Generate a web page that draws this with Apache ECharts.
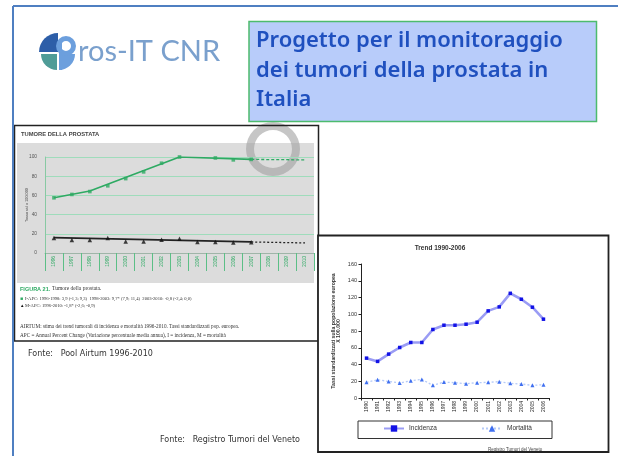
<!DOCTYPE html>
<html><head><meta charset="utf-8">
<script src="https://cdn.jsdelivr.net/npm/echarts@6/dist/echarts.min.js"></script>
<style>html,body{margin:0;padding:0;background:#fff}#c{width:618px;height:456px}</style>
</head><body><div id="c"></div>
<script>
// Left chart (AIRTUM)
const years1 = ['1996','1997','1998','1999','2000','2001','2002','2003','2004','2005','2006','2007','2008','2009','2010'];
const incObs = [57.5, 61, 64, 70, 77.5, 84.5, 93.5, 100, 102, 99, 97, 97.5, null, null, null];
const incTrend = [57.5, null, 64.5, null, null, null, null, 100, null, null, null, 97.5, null, null, null];
const incProj = [null, null, null, null, null, null, null, null, null, null, null, 97.5, null, null, 97];
const mortObs = [15.6, 13.5, 13.5, 15.6, 12.1, 12.1, 13.8, 14.9, 11.4, 11.4, 10.9, 11.1, null, null, null];
const mortTrend = [16, null, null, null, null, null, null, null, null, null, null, 11.5, null, null, null];
const mortProj = [null, null, null, null, null, null, null, null, null, null, null, 11.5, null, null, 10.5];
const yTicks1 = {min: 0, max: 100, interval: 20};

// Right chart (Registro Tumori del Veneto)
const years2 = ['1990','1991','1992','1993','1994','1995','1996','1997','1998','1999','2000','2001','2002','2003','2004','2005','2006'];
const incidenza = [47.6, 43.7, 52.4, 60.3, 66.3, 66.3, 81.8, 86.9, 86.9, 88.1, 90.5, 104, 108.8, 125, 117.9, 108.4, 94.1];
const mortalita = [18.7, 21.8, 19.8, 17.9, 20.6, 22.2, 15.1, 19, 18.3, 17.1, 18.3, 18.7, 19.5, 17.5, 16.7, 15.1, 15.9];
const yTicks2 = {min: 0, max: 160, interval: 20};

const GREEN = '#2eaa63';
const chart = echarts.init(document.getElementById('c'), null, {renderer: 'canvas'});

function txt(x, y, text, o) {
  o = o || {};
  return {type: 'text', z: o.z || 10, x: x, y: y, rotation: o.rot || 0,
    style: {text: text, fontSize: o.size || 8, fontFamily: o.family || 'Liberation Sans',
      fontWeight: o.weight || 'normal', fill: o.color || '#333',
      textAlign: o.align || 'left', align: o.align || 'left',
      textVerticalAlign: 'middle', verticalAlign: 'middle'}};
}

const graphics = [
  // slide frame
  {type: 'line', z: 1, shape: {x1: 13, y1: 6, x2: 618, y2: 6}, style: {stroke: '#4f7fc1', lineWidth: 2}},
  {type: 'line', z: 1, shape: {x1: 13, y1: 6, x2: 13, y2: 456}, style: {stroke: '#4f7fc1', lineWidth: 2}},
  // title box
  {type: 'rect', z: 1, shape: {x: 249, y: 21.5, width: 347.5, height: 100}, style: {fill: '#b8ccfa', stroke: '#4dbb6e', lineWidth: 1.5}},
  txt(256, 41, 'Progetto per il monitoraggio', {size: 22, family: 'Noto Sans', weight: 600, color: '#1f50bf'}),
  txt(256, 71, 'dei tumori della prostata in', {size: 22, family: 'Noto Sans', weight: 600, color: '#1f50bf'}),
  txt(256, 100, 'Italia', {size: 22, family: 'Noto Sans', weight: 600, color: '#1f50bf'}),
  // logo
  {type: 'sector', z: 2, shape: {cx: 58, cy: 52, r: 19, r0: 0, startAngle: Math.PI, endAngle: Math.PI * 1.5}, style: {fill: '#2d5ea8'}},
  {type: 'sector', z: 2, shape: {cx: 57, cy: 54, r: 16, r0: 0, startAngle: Math.PI / 2, endAngle: Math.PI}, style: {fill: '#4f9c97'}},
  {type: 'sector', z: 2, shape: {cx: 59, cy: 54, r: 16, r0: 0, startAngle: 0, endAngle: Math.PI / 2}, style: {fill: '#6c9fdd'}},
  {type: 'ring', z: 2, shape: {cx: 66, cy: 46, r: 10, r0: 5}, style: {fill: '#6c9fdd'}},
  {type: 'rect', z: 2, shape: {x: 59, y: 40, width: 3, height: 30}, style: {fill: '#6c9fdd'}},
  txt(78, 52, 'ros-IT CNR', {size: 29, family: 'Lato', color: '#7aa0cd'}),
  // left panel
  {type: 'rect', z: -30, shape: {x: 14.5, y: 125.5, width: 304, height: 215.5}, style: {fill: '#ffffff', stroke: 'none'}},
  {type: 'rect', z: -29, shape: {x: 17, y: 143, width: 297, height: 140}, style: {fill: '#dcdcdc'}},
  {type: 'ring', z: -28, shape: {cx: 273, cy: 149, r: 27, r0: 19}, style: {fill: 'rgba(160,160,160,0.6)'}},
  {type: 'rect', z: -27, shape: {x: 14.5, y: 125.5, width: 304, height: 215.5}, style: {fill: 'none', stroke: '#222', lineWidth: 1.5}},
  txt(21, 134, 'TUMORE DELLA PROSTATA', {size: 5.8, weight: 'bold', color: '#444'}),
  txt(27, 205, 'Tasso std x 100.000', {size: 3.8, color: '#444', rot: Math.PI / 2, align: 'center'}),
  txt(20, 289, 'FIGURA 21.', {size: 5.5, weight: 'bold', color: GREEN}),
  txt(52, 289, 'Tumore della prostata.', {size: 5.5, family: 'Liberation Serif', color: '#333'}),
  txt(20, 298.5, '\u25A0', {size: 5, color: GREEN}),
  txt(25, 298.5, 'I-APC: 1996-1998: 3,9 (-1,3; 9,3)  1998-2003: 9,7* (7,9; 11,4)  2003-2010: -0,8 (-2,4; 0,0)', {size: 4.6, family: 'Liberation Serif', color: '#333'}),
  txt(20, 305.5, '\u25B2', {size: 4.5, color: '#111'}),
  txt(25, 305.5, 'M-APC: 1996-2010: -1,8* (-2,6; -0,9)', {size: 4.6, family: 'Liberation Serif', color: '#333'}),
  txt(20, 327, 'AIRTUM: stima dei trend tumorali di incidenza e mortalit\u00e0 1996-2010. Tassi standardizzati pop. europea.', {size: 5.2, family: 'Liberation Serif', color: '#333'}),
  txt(20, 336, 'APC = Annual Percent Change (Variazione percentuale media annua), I = incidenza, M = mortalit\u00e0', {size: 5.2, family: 'Liberation Serif', color: '#333'}),
  // right panel
  {type: 'rect', z: -26, shape: {x: 318, y: 235.5, width: 290.5, height: 216.5}, style: {fill: '#ffffff', stroke: '#222', lineWidth: 1.8}},
  txt(440, 248, 'Trend 1990-2006', {size: 6.5, weight: 'bold', color: '#333', align: 'center'}),
  txt(336, 331, 'Tassi standardizzati sulla popolazione europea\nX 100.000', {size: 5.2, weight: 'bold', color: '#333', rot: Math.PI / 2, align: 'center'}),
  {type: 'rect', z: -20, shape: {x: 358, y: 421, width: 194, height: 17.5}, style: {fill: '#fff', stroke: '#333', lineWidth: 1}},
  txt(488, 450, 'Registro Tumori del Veneto', {size: 4.5, color: '#444'}),
  // sources
  txt(28, 354, 'Fonte:   Pool Airtum 1996-2010', {size: 8, family: 'DejaVu Sans', color: '#333'}),
  txt(160, 440, 'Fonte:   Registro Tumori del Veneto', {size: 8, family: 'DejaVu Sans', color: '#333'})
];

const option = {
  backgroundColor: '#ffffff',
  animation: false,
  graphic: {elements: graphics},
  legend: [
    {data: ['Incidenza'], left: 383, top: 425, itemWidth: 20, itemHeight: 8, padding: 0,
     textStyle: {fontSize: 6.5, color: '#333', fontFamily: 'Liberation Sans'}},
    {data: ['Mortalit\u00e0'], left: 481, top: 425, itemWidth: 20, itemHeight: 8, padding: 0,
     textStyle: {fontSize: 6.5, color: '#333', fontFamily: 'Liberation Sans'}}
  ],
  grid: [
    {left: 45, top: 157, width: 269, height: 96},
    {left: 361, top: 264, width: 188, height: 134}
  ],
  xAxis: [
    {gridIndex: 0, type: 'category', data: years1, boundaryGap: true,
     axisLine: {lineStyle: {color: '#9fb5a8', width: 1}},
     axisTick: {show: true, length: 18, interval: 0, lineStyle: {color: '#5cbf86'}},
     axisLabel: {rotate: 90, interval: 0, fontSize: 4.8, color: GREEN, margin: 3, fontFamily: 'Liberation Sans'}},
    {gridIndex: 1, type: 'category', data: years2, boundaryGap: true,
     axisLine: {lineStyle: {color: '#222', width: 1}},
     axisTick: {show: true, length: 2.5, interval: 0, lineStyle: {color: '#222'}},
     axisLabel: {rotate: 90, interval: 0, fontSize: 5, color: '#222', margin: 3, fontFamily: 'Liberation Sans'}}
  ],
  yAxis: [
    {gridIndex: 0, type: 'value', min: yTicks1.min, max: yTicks1.max, interval: yTicks1.interval,
     axisLine: {show: true, lineStyle: {color: '#88c9a3'}},
     axisTick: {show: false},
     splitLine: {lineStyle: {color: '#9fdcbb', width: 1}},
     axisLabel: {fontSize: 4.8, color: '#555', margin: 8, fontFamily: 'Liberation Sans'}},
    {gridIndex: 1, type: 'value', min: yTicks2.min, max: yTicks2.max, interval: yTicks2.interval,
     axisLine: {show: true, lineStyle: {color: '#222'}},
     axisTick: {show: true, length: 2.5, lineStyle: {color: '#222'}},
     splitLine: {show: false},
     axisLabel: {fontSize: 5.5, color: '#333', margin: 4, fontFamily: 'Liberation Sans'}}
  ],
  series: [
    {name: 'I trend', type: 'line', xAxisIndex: 0, yAxisIndex: 0, data: incTrend, connectNulls: true,
     symbol: 'none', lineStyle: {color: GREEN, width: 1.6}, z: 3},
    {name: 'I proiezione', type: 'line', xAxisIndex: 0, yAxisIndex: 0, data: incProj, connectNulls: true,
     symbol: 'none', lineStyle: {color: GREEN, width: 1.3, type: [3, 2]}, z: 3},
    {name: 'I osservati', type: 'scatter', xAxisIndex: 0, yAxisIndex: 0, data: incObs,
     symbol: 'rect', symbolSize: 3.6, itemStyle: {color: GREEN}, z: 4},
    {name: 'M trend', type: 'line', xAxisIndex: 0, yAxisIndex: 0, data: mortTrend, connectNulls: true,
     symbol: 'none', lineStyle: {color: '#222', width: 1.8}, z: 3},
    {name: 'M proiezione', type: 'line', xAxisIndex: 0, yAxisIndex: 0, data: mortProj, connectNulls: true,
     symbol: 'none', lineStyle: {color: '#222', width: 1.3, type: [2, 2]}, z: 3},
    {name: 'M osservati', type: 'scatter', xAxisIndex: 0, yAxisIndex: 0, data: mortObs,
     symbol: 'triangle', symbolSize: 4.5, itemStyle: {color: '#111'}, z: 4},
    {name: 'Incidenza', type: 'line', xAxisIndex: 1, yAxisIndex: 1, data: incidenza,
     symbol: 'rect', symbolSize: 3.5, showAllSymbol: true,
     lineStyle: {color: '#9a9cf4', width: 2.6}, itemStyle: {color: '#1212e6'}, z: 3},
    {name: 'Mortalit\u00e0', type: 'line', xAxisIndex: 1, yAxisIndex: 1, data: mortalita,
     symbol: 'triangle', symbolSize: 4, showAllSymbol: true,
     lineStyle: {color: '#b5caf8', width: 1.3, type: [2, 2]}, itemStyle: {color: '#3f6ff0'}, z: 3}
  ]
};
chart.setOption(option);
</script></body></html>
